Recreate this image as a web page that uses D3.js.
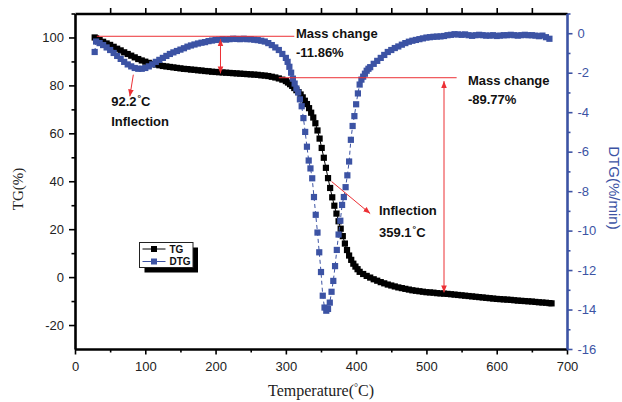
<!DOCTYPE html>
<html>
<head>
<meta charset="utf-8">
<script src="https://cdn.jsdelivr.net/npm/d3@7"></script>
<style>
  body { margin: 0; background: #fff; }
  svg { display: block; overflow: visible; }
  text { font-family: "Liberation Sans", Arial, sans-serif; }
</style>
</head>
<body>
<div></div>
<script>
      var outerWidth  = 622;
      var outerHeight = 402;
      var margin = { left: 75, top: 13.5, right: 55, bottom: 53 };

      // TG curve (temperature in C, mass in %)
      var tgTemp = [28,30,35,40,45,50,55,60,65,70,75,80,85,90,95,100,105,110,115,120,125,130,135,140,145,150,
        155,160,165,170,175,180,185,190,195,200,205,210,215,220,225,230,235,240,245,250,255,260,265,270,275,280,
        285,290,295,300,303,306,309,312,315,318,321,324,327,330,333,336,339,342,345,348,351,354,357,360,363,366,
        369,372,375,378,381,384,387,390,393,396,399,402,405,410,415,420,425,430,435,440,445,450,455,460,465,470,
        475,480,485,490,495,500,505,510,515,520,525,530,535,540,545,550,555,560,565,570,575,580,585,590,595,600,
        605,610,615,620,625,630,635,640,645,650,655,660,665,670,675,678];
      var tgValue = [100,99.6,98.9,98.2,97.5,96.9,96.1,95.3,94.6,93.8,93.1,92.4,91.7,91.0,90.4,89.9,89.4,89.0,88.7,
        88.4,88.1,87.9,87.7,87.5,87.3,87.1,86.9,86.8,86.6,86.5,86.3,86.2,86.0,85.9,85.7,85.6,85.5,85.4,85.3,85.2,
        85.1,85.0,84.9,84.8,84.7,84.6,84.5,84.4,84.2,84.1,83.9,83.6,83.3,82.9,82.4,81.8,81.2,80.5,79.8,78.9,78.0,
        77.2,76.2,75.0,73.6,72.2,70.5,68.6,66.6,64.2,61.2,57.8,53.9,49.8,45.6,41.3,37.2,33.3,29.8,26.5,23.3,20.2,
        17.1,14.0,11.3,9.0,7.2,5.6,4.4,3.3,2.2,1.3,0.5,-0.2,-0.9,-1.5,-2.1,-2.6,-3.1,-3.5,-3.9,-4.3,-4.6,-4.9,
        -5.2,-5.5,-5.7,-5.9,-6.1,-6.3,-6.4,-6.5,-6.7,-6.8,-6.9,-7.0,-7.15,-7.3,-7.45,-7.6,-7.75,-7.9,-8.05,-8.2,
        -8.35,-8.5,-8.65,-8.8,-8.95,-9.1,-9.2,-9.3,-9.4,-9.5,-9.65,-9.8,-9.9,-10.0,-10.1,-10.2,-10.35,-10.5,-10.6,
        -10.7,-10.85,-10.95];

      // DTG curve (temperature in C, rate in %/min)
      var dtgTemp = [28,30,35,40,45,50,55,60,65,70,75,80,85,90,95,100,105,110,115,120,125,130,135,140,145,150,
        155,160,165,170,175,180,185,190,195,200,205,210,215,220,225,230,235,240,245,250,255,260,265,270,275,280,
        285,290,295,300,302.5,305,307.5,310,312.5,315,317.5,320,322.5,325,327.5,330,332.5,335,337.5,340,342.5,
        345,347.5,350,352.5,355,357.5,360,362.5,365,367.5,370,372.5,375,377.5,380,382.5,385,387.5,390,392.5,395,
        397.5,400,402.5,405,407.5,410,412.5,415,417.5,420,425,430,435,440,445,450,455,460,465,470,475,480,485,
        490,495,500,505,510,515,520,525,530,535,540,545,550,555,560,565,570,575,580,585,590,595,600,605,610,615,
        620,625,630,635,640,645,650,655,660,665,670,675];
      var dtgValue = [-0.95,-0.42,-0.5,-0.6,-0.72,-0.85,-1.0,-1.15,-1.3,-1.45,-1.58,-1.68,-1.76,-1.8,-1.8,-1.76,
        -1.68,-1.58,-1.45,-1.35,-1.25,-1.15,-1.05,-0.97,-0.9,-0.83,-0.76,-0.68,-0.62,-0.57,-0.52,-0.48,-0.45,-0.4,
        -0.37,-0.34,-0.33,-0.3,-0.32,-0.3,-0.28,-0.29,-0.3,-0.28,-0.3,-0.3,-0.33,-0.35,-0.38,-0.42,-0.5,-0.6,-0.72,
        -0.85,-1.05,-1.25,-1.45,-1.7,-2.0,-2.3,-2.55,-2.8,-3.0,-3.35,-3.7,-4.3,-5.0,-5.75,-6.45,-6.85,-7.35,-8.3,
        -9.2,-10.1,-11.1,-12.1,-13.3,-13.9,-14.06,-13.97,-13.65,-13.1,-12.55,-11.8,-10.98,-10.2,-9.5,-8.7,-8.3,
        -7.8,-7.2,-6.5,-5.4,-4.7,-4.2,-3.6,-3.05,-2.6,-2.35,-2.2,-2.05,-1.9,-1.8,-1.72,-1.55,-1.4,-1.25,-1.1,
        -0.95,-0.85,-0.75,-0.67,-0.58,-0.5,-0.43,-0.38,-0.34,-0.3,-0.26,-0.22,-0.2,-0.18,-0.17,-0.16,-0.14,-0.1,
        -0.08,-0.05,-0.06,-0.08,-0.06,-0.1,-0.13,-0.1,-0.08,-0.1,-0.12,-0.12,-0.1,-0.14,-0.12,-0.1,-0.1,-0.08,
        -0.1,-0.12,-0.1,-0.08,-0.1,-0.1,-0.12,-0.15,-0.12,-0.2,-0.28];

      var xTicks      = [0,100,200,300,400,500,600,700];
      var xMinorTicks = [50,150,250,350,450,550,650];
      var xTopTicks   = [50,100,150,200,250,300,350,400,450,500,550,600,650];
      var tgTicks      = [-20,0,20,40,60,80,100];
      var tgMinorTicks = [-10,10,30,50,70,90,110];
      var dtgTicks      = [0,-2,-4,-6,-8,-10,-12,-14,-16];
      var dtgMinorTicks = [1,-1,-3,-5,-7,-9,-11,-13,-15];

      var black = "#000", blue = "#3c53a4", red = "#ec3035";

      var innerWidth  = outerWidth  - margin.left - margin.right;
      var innerHeight = outerHeight - margin.top  - margin.bottom;

      var svg = d3.select("div").append("svg")
        .attr("width",  outerWidth)
        .attr("height", outerHeight);

      var defs = svg.append("defs");
      defs.append("marker")
        .attr("id", "arrow")
        .attr("viewBox", "0 0 10 10")
        .attr("refX", 10).attr("refY", 5)
        .attr("markerWidth", 7).attr("markerHeight", 7)
        .attr("markerUnits", "userSpaceOnUse")
        .attr("orient", "auto-start-reverse")
        .append("path")
        .attr("d", "M0,1 L10,5 L0,9 Z")
        .attr("fill", red);

      var g = svg.append("g")
        .attr("transform", "translate(" + margin.left + "," + margin.top + ")");

      var xScale   = d3.scaleLinear().domain([0, 700]).range([0, innerWidth]);
      var tgScale  = d3.scaleLinear().domain([-30, 110]).range([innerHeight, 0]);
      var dtgScale = d3.scaleLinear().domain([-16, 1]).range([innerHeight, 0]);

      var fmt = function (d) { return String(d); };

      function styleAxis(sel, color, labelColor) {
        sel.attr("font-size", 13).attr("font-family", "'Liberation Sans', Arial, sans-serif");
        sel.select(".domain").attr("stroke", color).attr("stroke-width", 2.6);
        sel.selectAll(".tick line").attr("stroke", color).attr("stroke-width", 1.6);
        sel.selectAll(".tick text").attr("fill", labelColor);
      }
      function styleMinor(sel, color) {
        sel.select(".domain").remove();
        sel.selectAll("line").attr("stroke", color).attr("stroke-width", 1.6);
      }

      // minor ticks first so the main axis lines sit on top
      g.append("g").attr("transform", "translate(0," + innerHeight + ")")
        .call(d3.axisBottom(xScale).tickValues(xMinorTicks).tickSize(3.5).tickFormat(""))
        .call(styleMinor, black);
      g.append("g")
        .call(d3.axisLeft(tgScale).tickValues(tgMinorTicks).tickSize(3.5).tickFormat(""))
        .call(styleMinor, black);
      g.append("g").attr("transform", "translate(" + innerWidth + ",0)")
        .call(d3.axisRight(dtgScale).tickValues(dtgMinorTicks).tickSize(3.5).tickFormat(""))
        .call(styleMinor, blue);
      g.selectAll(".tick text").filter(function () { return !this.textContent; }).remove();

      g.append("g")
        .call(d3.axisBottom(xScale).tickValues(xTopTicks).tickSize(-5.5).tickSizeOuter(0).tickFormat(""))
        .call(styleAxis, black, black)
        .selectAll(".tick text").remove();

      g.append("g").attr("transform", "translate(0," + innerHeight + ")")
        .call(d3.axisBottom(xScale).tickValues(xTicks).tickSize(5.5).tickSizeOuter(0).tickPadding(7).tickFormat(fmt))
        .call(styleAxis, black, "#222");

      g.append("g")
        .call(d3.axisLeft(tgScale).tickValues(tgTicks).tickSize(6).tickSizeOuter(0).tickPadding(5).tickFormat(fmt))
        .call(styleAxis, black, "#222");

      g.append("g").attr("transform", "translate(" + innerWidth + ",0)")
        .call(d3.axisRight(dtgScale).tickValues(dtgTicks).tickSize(5.5).tickSizeOuter(0).tickPadding(5).tickFormat(fmt))
        .call(styleAxis, blue, blue);

      // axis titles
      svg.append("text")
        .attr("transform", "translate(23,189) rotate(-90)")
        .attr("text-anchor", "middle")
        .style("font-family", "'Liberation Serif', 'Times New Roman', serif")
        .style("font-size", "15px")
        .attr("fill", "#222")
        .text("TG(%)");

      svg.append("text")
        .attr("transform", "translate(609,188) rotate(90)")
        .attr("text-anchor", "middle")
        .style("font-size", "15px")
        .attr("fill", blue)
        .text("DTG(%/min)");

      var xt = svg.append("text")
        .attr("x", 321).attr("y", 396)
        .attr("text-anchor", "middle")
        .style("font-family", "'Liberation Serif', 'Times New Roman', serif")
        .style("font-size", "16px")
        .attr("fill", "#222");
      xt.append("tspan").text("Temperature(");
      xt.append("tspan").attr("dy", -5).style("font-size", "10px").text("°");
      xt.append("tspan").attr("dy", 5).text("C)");

      // series
      var tgData  = tgTemp.map(function (t, i) { return { t: t, v: tgValue[i] }; });
      var dtgData = dtgTemp.map(function (t, i) { return { t: t, v: dtgValue[i] }; });

      var tgLine = d3.line()
        .x(function (d) { return xScale(d.t); })
        .y(function (d) { return tgScale(d.v); });
      var dtgLine = d3.line()
        .x(function (d) { return xScale(d.t); })
        .y(function (d) { return dtgScale(d.v); });

      var ms = 6.2;

      g.append("path").datum(tgData)
        .attr("d", tgLine).attr("fill", "none")
        .attr("stroke", black).attr("stroke-width", 1);
      g.selectAll(".tg").data(tgData).enter().append("rect")
        .attr("class", "tg")
        .attr("x", function (d) { return xScale(d.t) - ms / 2; })
        .attr("y", function (d) { return tgScale(d.v) - ms / 2; })
        .attr("width", ms).attr("height", ms)
        .attr("fill", black);

      g.append("path").datum(dtgData)
        .attr("d", dtgLine).attr("fill", "none")
        .attr("stroke", blue).attr("stroke-width", 1)
        .attr("stroke-dasharray", "4,3");
      g.selectAll(".dtg").data(dtgData).enter().append("rect")
        .attr("class", "dtg")
        .attr("x", function (d) { return xScale(d.t) - ms / 2; })
        .attr("y", function (d) { return dtgScale(d.v) - ms / 2; })
        .attr("width", ms).attr("height", ms)
        .attr("fill", blue);

      // annotations (red guide lines and arrows), in data units
      function seg(x1, y1, x2, y2, s, headStart, headEnd) {
        var l = g.append("line")
          .attr("x1", xScale(x1)).attr("y1", s(y1))
          .attr("x2", xScale(x2)).attr("y2", s(y2))
          .attr("stroke", red).attr("stroke-width", 1);
        if (headStart) l.attr("marker-start", "url(#arrow)");
        if (headEnd) l.attr("marker-end", "url(#arrow)");
      }
      seg(31, 100.5, 312, 100.5, tgScale, false, false);
      seg(207, 99.3, 207, 85.0, tgScale, true, true);
      seg(290, 83.2, 543, 83.2, tgScale, false, false);
      seg(525, 81.8, 525, -6.4, tgScale, true, true);
      seg(83, -2.1, 78, -3.2, dtgScale, false, true);
      seg(365, 39.9, 420, 26.5, tgScale, false, true);

      function label(t, v, parts) {
        var tx = g.append("text")
          .attr("x", xScale(t)).attr("y", tgScale(v))
          .style("font-size", "13px").style("font-weight", "bold")
          .attr("fill", "#111");
        parts.forEach(function (p) {
          var ts = tx.append("tspan").text(p.s);
          if (p.sup) ts.attr("dy", -5).attr("dx", 1).style("font-size", "9px");
          if (p.down) ts.attr("dy", 5);
        });
      }
      label(314.4, 99.9, [{ s: "Mass change" }]);
      label(314.4, 92.0, [{ s: "-11.86%" }]);
      label(559, 80.3, [{ s: "Mass change" }]);
      label(559, 72.3, [{ s: "-89.77%" }]);
      label(51.5, 71.2, [{ s: "92.2" }, { s: "°", sup: true }, { s: "C", down: true }]);
      label(51.5, 63.2, [{ s: "Inflection" }]);
      label(432.5, 26.0, [{ s: "Inflection" }]);
      label(432.5, 16.8, [{ s: "359.1" }, { s: "°", sup: true }, { s: "C", down: true }]);

      // legend
      var legend = svg.append("g").attr("transform", "translate(139.5,242.5)");
      legend.append("rect").attr("x", 5).attr("y", 5).attr("width", 53.5).attr("height", 25).attr("fill", "#000");
      legend.append("rect").attr("x", 0).attr("y", 0).attr("width", 53.5).attr("height", 25)
        .attr("fill", "#fff").attr("stroke", "#222").attr("stroke-width", 1);
      var items = [{ name: "TG", color: black }, { name: "DTG", color: blue }];
      items.forEach(function (it, i) {
        var yy = 6.5 + i * 12.5;
        legend.append("line").attr("x1", 3).attr("x2", 26).attr("y1", yy).attr("y2", yy)
          .attr("stroke", it.color).attr("stroke-width", 1);
        legend.append("rect").attr("x", 14.5 - 3).attr("y", yy - 3).attr("width", 6).attr("height", 6)
          .attr("fill", it.color);
        legend.append("text").attr("x", 30).attr("y", yy + 3.5)
          .style("font-size", "10px").style("font-weight", "bold")
          .attr("fill", "#111").text(it.name);
      });
</script>
</body>
</html>
